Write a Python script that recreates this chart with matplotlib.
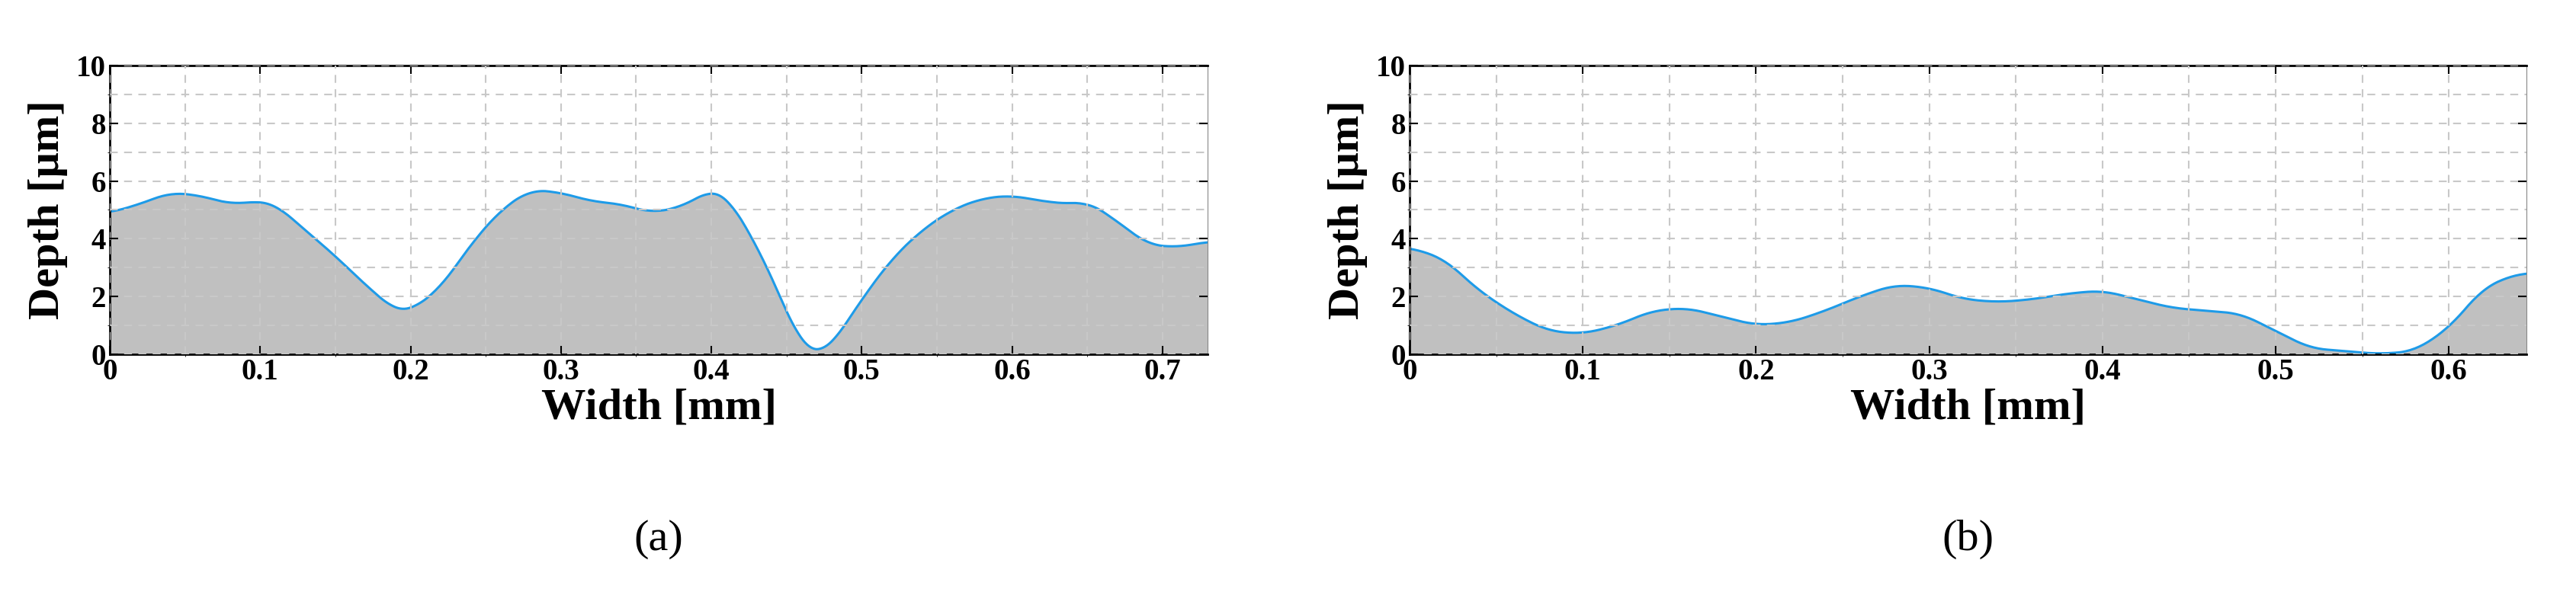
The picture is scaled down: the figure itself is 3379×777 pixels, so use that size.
import numpy as np
import matplotlib.pyplot as plt

xa = [0, 0.02, 0.04, 0.06, 0.08, 0.1, 0.11, 0.13, 0.15, 0.17, 0.19, 0.2, 0.22, 0.24, 0.26, 0.28, 0.3,
      0.32, 0.34, 0.36, 0.38, 0.4, 0.41, 0.43, 0.45, 0.46, 0.47, 0.48, 0.5, 0.52, 0.54, 0.56, 0.58,
      0.6, 0.62, 0.64, 0.65, 0.67, 0.69, 0.71, 0.73]
ya = [4.9, 5.2, 5.6, 5.5, 5.2, 5.3, 5.2, 4.3, 3.4, 2.4, 1.5, 1.5, 2.3, 3.8, 5.0, 5.7, 5.6,
      5.3, 5.2, 4.9, 5.1, 5.7, 5.5, 3.8, 1.5, 0.3, 0.0, 0.3, 1.9, 3.3, 4.3, 5.0, 5.4,
      5.5, 5.3, 5.2, 5.3, 4.6, 3.8, 3.7, 3.9]
xb = [0, 0.02, 0.04, 0.06, 0.08, 0.1, 0.12, 0.14, 0.16, 0.18, 0.2, 0.22, 0.24, 0.26, 0.28, 0.3,
      0.32, 0.34, 0.36, 0.38, 0.4, 0.42, 0.44, 0.46, 0.48, 0.5, 0.52, 0.54, 0.56, 0.58, 0.6, 0.62, 0.64]
yb = [3.7, 3.3, 2.2, 1.4, 0.8, 0.7, 1.0, 1.5, 1.6, 1.3, 1.0, 1.1, 1.5, 2.0, 2.4, 2.3,
      1.9, 1.8, 1.9, 2.1, 2.2, 1.9, 1.6, 1.5, 1.4, 0.8, 0.2, 0.1, 0.0, 0.1, 0.9, 2.3, 2.8]

plt.rcParams['font.family'] = ['Liberation Serif', 'DejaVu Serif']
fig = plt.figure(figsize=(33.79, 7.77), dpi=100)

panels = [(xa, ya, 0.73, [0, 0.1, 0.2, 0.3, 0.4, 0.5, 0.6, 0.7], 0.0426, 0.4262, '(a)'),
          (xb, yb, 0.645, [0, 0.1, 0.2, 0.3, 0.4, 0.5, 0.6], 0.5472, 0.4337, '(b)')]
for x, y, xmax, ticks, left, width, tag in panels:
    ax = fig.add_axes([left, 0.402, width, 0.487])
    xs = np.linspace(0, xmax, 500)
    ys = np.interp(xs, x, y)
    # light smoothing of the piecewise-linear profile
    k = np.ones(15) / 15
    ys = np.convolve(np.pad(ys, 7, mode='edge'), k, mode='valid')
    ax.fill_between(xs, 0, ys, color='#c0c0c0', lw=0)
    ax.plot(xs, ys, color='#1e9be8', lw=2.2)
    ax.set_xlim(0, xmax)
    ax.set_ylim(0, 10)
    ax.set_xticks(ticks)
    ax.set_xticklabels(['0'] + ['%g' % t for t in ticks[1:]], fontsize=28, fontweight='bold')
    ax.set_yticks([0, 2, 4, 6, 8, 10])
    ax.set_yticklabels(['0', '2', '4', '6', '8', '10'], fontsize=28, fontweight='bold')
    ax.set_xticks(np.arange(0, xmax, 0.05), minor=True)
    ax.set_yticks(np.arange(0, 10, 1), minor=True)
    ax.grid(True, which='both', color='#c8c8c8', ls=(0, (5, 4)), lw=1.5)
    ax.set_axisbelow(False)
    for s in ['left', 'bottom', 'top']:
        ax.spines[s].set_linewidth(2)
    ax.spines['right'].set_color('#888888')
    ax.tick_params(top=True, right=True, direction='in', length=8, width=1.5)
    ax.set_xlabel('Width [mm]', fontsize=42, fontweight='bold', labelpad=2)
    ax.set_ylabel('Depth [μm]', fontsize=42, fontweight='bold', labelpad=8)
    ax.text(0.5, -0.68, tag, transform=ax.transAxes, ha='center', fontsize=42,
            family=['Liberation Serif'])

fig.savefig('out.png', dpi=100)
